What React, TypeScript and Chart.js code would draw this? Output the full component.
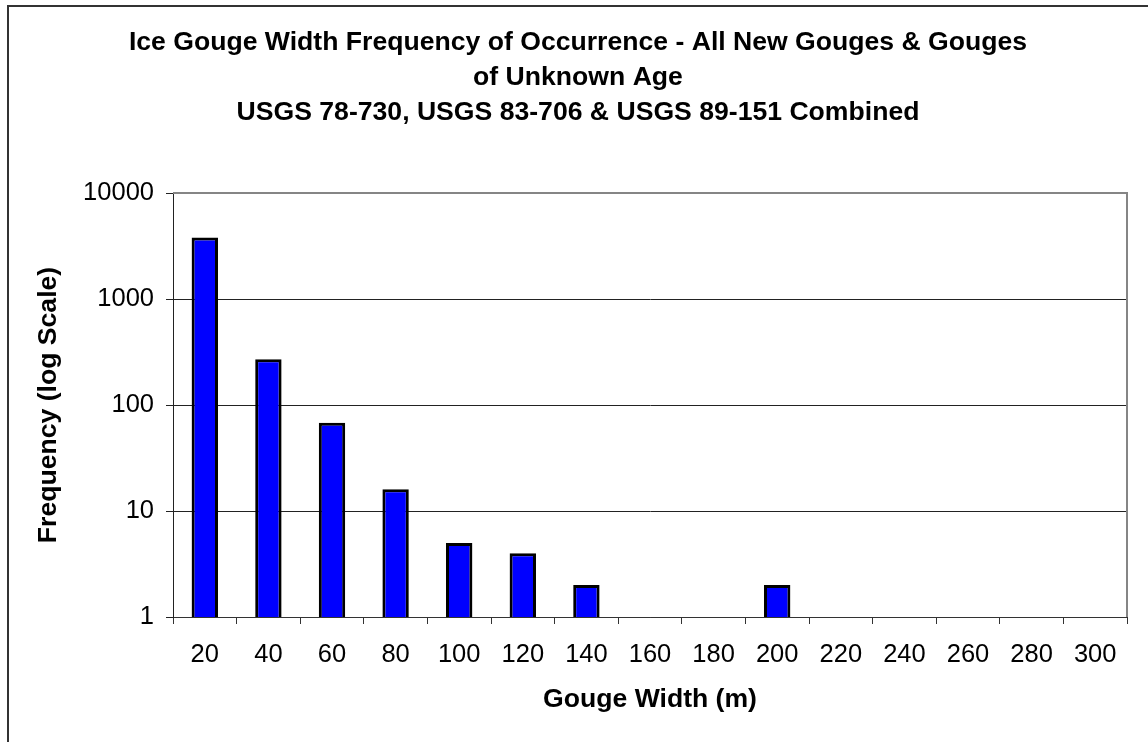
import React, { useEffect, useRef } from "react";
import { Chart, registerables } from "chart.js";

Chart.register(...registerables);

const categories = ["20", "40", "60", "80", "100", "120", "140", "160", "180", "200", "220", "240", "260", "280", "300"];
const frequency = [3800, 270, 68, 16, 5, 4, 2, null, null, 2, null, null, null, null, null];
const yTickValues = [1, 10, 100, 1000, 10000];
const titleLines = [
  "Ice Gouge Width Frequency of Occurrence - All New Gouges & Gouges",
  "of Unknown Age",
  "USGS 78-730, USGS 83-706 & USGS 89-151 Combined",
];
const xTitle = "Gouge Width (m)";
const yTitle = "Frequency (log Scale)";

const FONT = "'Liberation Sans', Arial, Helvetica, sans-serif";

const framePlugin = {
  id: "frame",
  afterDraw(chart: any) {
    const { ctx, chartArea } = chart;
    ctx.save();
    ctx.fillStyle = "#333";
    ctx.fillRect(7, 5, 2, chart.height);
    ctx.fillRect(7, 5, chart.width, 2);
    ctx.strokeStyle = "#858585";
    ctx.lineWidth = 2;
    ctx.beginPath();
    ctx.moveTo(Math.round(chartArea.left), Math.round(chartArea.top));
    ctx.lineTo(Math.round(chartArea.right), Math.round(chartArea.top));
    ctx.lineTo(Math.round(chartArea.right), Math.round(chartArea.bottom));
    ctx.stroke();
    ctx.restore();
  },
};

export default function App() {
  const ref = useRef<HTMLCanvasElement | null>(null);

  useEffect(() => {
    if (!ref.current) return;
    Chart.defaults.font.family = FONT;
    const chart = new Chart(ref.current, {
      type: "bar",
      data: {
        labels: categories,
        datasets: [
          {
            label: "Frequency",
            data: frequency as any,
            backgroundColor: "#0000FF",
            borderColor: "#000000",
            borderWidth: 3,
            categoryPercentage: 1,
            barPercentage: 0.415,
          },
        ],
      },
      options: {
        responsive: false,
        animation: false,
        layout: { padding: { left: 29, right: 21, top: 0, bottom: 0 } },
        plugins: {
          legend: { display: false },
          tooltip: { enabled: false },
          title: {
            display: true,
            text: titleLines,
            color: "#000",
            font: { family: FONT, size: 26.6, weight: "bold", lineHeight: 1.316 },
            padding: { top: 25, bottom: 63 },
          },
        },
        scales: {
          x: {
            type: "category",
            grid: {
              display: true,
              drawOnChartArea: false,
              drawTicks: true,
              tickLength: 7,
              tickColor: "#333",
              offset: true,
            },
            border: { display: true, color: "#333", width: 1 },
            ticks: {
              color: "#000",
              font: { family: FONT, size: 25.5 },
              padding: 16,
              maxRotation: 0,
              autoSkip: false,
            },
            title: {
              display: true,
              text: xTitle,
              color: "#000",
              font: { family: FONT, size: 26.6, weight: "bold" },
              padding: { top: 0, bottom: 26 },
            },
            afterFit: (scale: any) => {
              scale.height = 125;
            },
          },
          y: {
            type: "logarithmic",
            min: 1,
            max: 10000,
            grid: {
              display: true,
              drawOnChartArea: true,
              drawTicks: true,
              tickLength: 7,
              color: (c: any) => (c.tick && c.tick.value === 10000 ? "rgba(0,0,0,0)" : "#222"),
              tickColor: "#222",
            },
            border: { display: true, color: "#222", width: 1 },
            ticks: {
              color: "#000",
              font: { family: FONT, size: 25.5 },
              padding: 12,
              callback: (v: any) => String(v),
            },
            afterBuildTicks: (scale: any) => {
              scale.ticks = yTickValues.map((v) => ({ value: v }));
            },
            title: {
              display: true,
              text: yTitle,
              color: "#000",
              font: { family: FONT, size: 26.6, weight: "bold" },
              padding: { top: 4, bottom: 0 },
            },
            afterFit: (scale: any) => {
              scale.width = 144;
            },
          },
        },
      },
      plugins: [framePlugin],
    });
    return () => chart.destroy();
  }, []);

  return (
    <div style={{ position: "absolute", left: 0, top: 0, width: 1148, height: 742, background: "#fff" }}>
      <canvas ref={ref} width={1148} height={742} />
    </div>
  );
}
